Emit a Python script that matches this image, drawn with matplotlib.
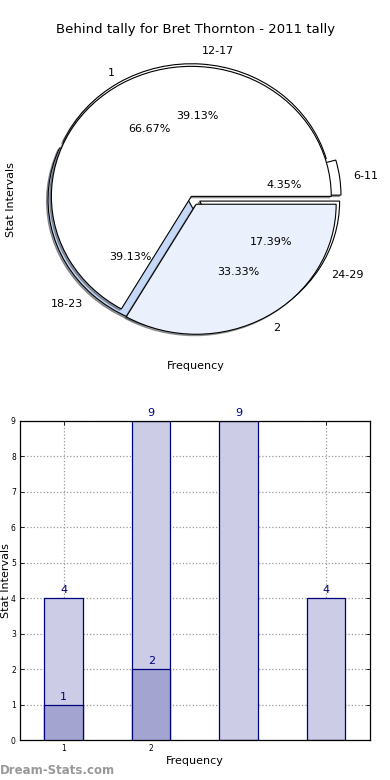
import matplotlib
matplotlib.use("Agg")
import matplotlib.pyplot as plt

# ---- data ----
title = "Behind tally for Bret Thornton - 2011 tally"
interval_labels = ["6-11", "12-17", "18-23", "24-29"]
interval_values = [1, 9, 9, 4]
freq_labels = ["1", "2"]
freq_values = [2, 1]

bar_positions = [1, 2, 3, 4]
bar_totals = [4, 9, 9, 4]
bar_sub_positions = [1, 2]
bar_sub_values = [1, 2]
xtick_labels = ["1", "2", "", ""]
yticks = list(range(10))

fig = plt.figure(figsize=(3.9, 7.8), dpi=100)

# ---- pie chart ----
ax1 = fig.add_axes([0.0564, 0.5449, 0.892, 0.3987])
shadow = dict(ox=-0.008, oy=-0.008)
_, t1, p1 = ax1.pie(interval_values, labels=interval_labels, autopct="%.2f%%",
                    explode=[0.07, 0.02, 0.035, 0.07],
                    colors=["white", "white", "#c6d8f8", "white"],
                    wedgeprops=dict(edgecolor="black", linewidth=0.8, zorder=1),
                    textprops=dict(fontsize=8), shadow=shadow, startangle=0)
_, t2, p2 = ax1.pie(freq_values, labels=freq_labels, autopct="%.2f%%",
                    explode=[0.0, 0.07],
                    colors=["white", "#ebf1fc"],
                    wedgeprops=dict(edgecolor="black", linewidth=0.8, zorder=2),
                    textprops=dict(fontsize=8), shadow=shadow, startangle=0)
for t in list(t1) + list(p1) + list(t2) + list(p2):
    t.set_zorder(5)
ax1.set_aspect("auto")
ax1.set_xlim(-1.21, 1.276)
ax1.set_ylim(-1.22, 1.172)
ax1.set_frame_on(False)
ax1.set_xticks([])
ax1.set_yticks([])
ax1.set_title(title, fontsize=9.5, pad=8)
ax1.set_xlabel("Frequency", fontsize=8)
ax1.set_ylabel("Stat Intervals", fontsize=8)

# ---- bar chart ----
ax2 = fig.add_axes([0.0513, 0.05128, 0.897, 0.409])
navy = "#000080"
ax2.bar(bar_positions, bar_totals, width=0.44, color="#ccccE6",
        edgecolor=navy, linewidth=0.9, zorder=2)
ax2.bar(bar_sub_positions, bar_sub_values, width=0.44, color="#a3a5d0",
        edgecolor=navy, linewidth=0.9, zorder=3)
for x, v in zip(bar_positions, bar_totals):
    ax2.annotate(str(v), (x, v), xytext=(0, 2), textcoords="offset points",
                 ha="center", va="bottom", color=navy, fontsize=8, zorder=5)
for x, v in zip(bar_sub_positions, bar_sub_values):
    ax2.annotate(str(v), (x, v), xytext=(0, 2), textcoords="offset points",
                 ha="center", va="bottom", color=navy, fontsize=8, zorder=5)
ax2.set_xlim(0.5, 4.5)
ax2.set_ylim(0, 9)
ax2.set_xticks(bar_positions)
ax2.set_xticklabels(xtick_labels)
ax2.set_yticks(yticks)
ax2.tick_params(labelsize=5.5, direction="in", top=True, right=True,
                length=3, width=0.6, pad=3)
ax2.grid(True, linestyle=":", color="#999999", linewidth=0.9, zorder=0)
ax2.set_axisbelow(True)
for s in ax2.spines.values():
    s.set_linewidth(0.9)
ax2.set_xlabel("Frequency", fontsize=8, labelpad=2)
ax2.set_ylabel("Stat Intervals", fontsize=8)
ax2.yaxis.set_label_coords(-0.026, 0.5)

fig.text(0.0, 0.0128, "Dream-Stats.com", fontsize=8.5, fontweight="bold",
         color="#999999", ha="left", va="center")

fig.savefig("out.png", dpi=100)
